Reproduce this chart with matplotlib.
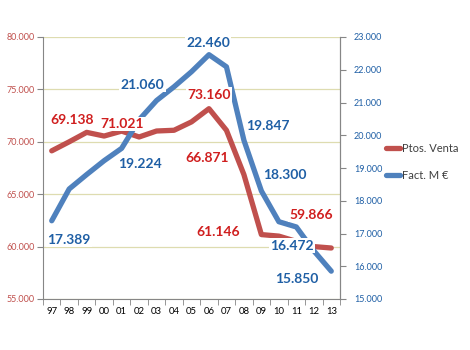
import matplotlib
matplotlib.use("Agg")
import matplotlib.pyplot as plt
from matplotlib.ticker import FuncFormatter, FixedLocator

years = ["97", "98", "99", "00", "01", "02", "03", "04", "05", "06", "07", "08", "09", "10", "11", "12", "13"]
ptos_venta = [69138, 70000, 70900, 70550, 71021, 70460, 71030, 71100, 71900, 73160, 71100, 66871, 61146, 61000, 60500, 60000, 59866]
fact_m = [17389, 18360, 18800, 19224, 19600, 20470, 21060, 21480, 21940, 22460, 22090, 19847, 18300, 17360, 17200, 16472, 15850]

# labelled points: (index, text, dx_px, dy_px)
red_labels = [(0, "69.138", 20, 31), (4, "71.021", 1, 7), (9, "73.160", 0, 14), (11, "66.871", -37, 17), (12, "61.146", -43, 3), (16, "59.866", -20, 33)]
blue_labels = [(0, "17.389", 17, -19), (3, "19.224", 36, -3), (6, "21.060", -14, 16), (9, "22.460", -1, 12), (11, "19.847", 24, 14), (12, "18.300", 23, 16), (15, "16.472", -22, 5), (16, "15.850", -34, -8)]

RED = "#c0504d"
BLUE = "#4f81bd"
RED_TXT = "#d01f1f"
BLUE_TXT = "#1f5fa5"

plt.rcParams['font.family'] = ['Lato', 'DejaVu Sans']

fig = plt.figure(figsize=(4.7, 3.5), dpi=100)
ax1 = fig.add_axes([43/470, 1-299/350, (340-43)/470, (299-37)/350])
ax2 = ax1.twinx()

x = list(range(len(years)))
l1, = ax1.plot(x, ptos_venta, color=RED, lw=3.8, solid_capstyle='round', solid_joinstyle='round', label="Ptos. Venta")
l2, = ax2.plot(x, fact_m, color=BLUE, lw=3.8, solid_capstyle='round', solid_joinstyle='round', label="Fact. M \u20ac")

ax1.set_xlim(-0.5, len(years) - 0.5)
ax1.set_ylim(55000, 80000)
ax2.set_ylim(15000, 23000)
ax1.set_yticks(range(55000, 80001, 5000))
ax2.set_yticks(range(15000, 23001, 1000))
fmt = FuncFormatter(lambda v, p: f"{int(v):,}".replace(",", "."))
ax1.yaxis.set_major_formatter(fmt)
ax2.yaxis.set_major_formatter(fmt)

ax1.set_xticks(x)
ax1.set_xticklabels(years)
ax1.xaxis.set_minor_locator(FixedLocator([i - 0.5 for i in range(len(years) + 1)]))
ax1.tick_params(axis='x', which='major', length=0, labelsize=6.8, pad=6, colors='black')
ax1.tick_params(axis='x', which='minor', length=4, color='#868686')
ax1.tick_params(axis='y', labelsize=6.5, labelcolor=RED, length=4, color='#868686', pad=2)
ax2.tick_params(axis='y', labelsize=6.5, labelcolor=BLUE_TXT, length=4, color='#868686', pad=6)

ax1.grid(axis='y', color='#dedcb0', lw=0.9)
ax1.set_axisbelow(True)
for ax in (ax1, ax2):
    ax.spines['top'].set_visible(False)
    for s in ('left', 'right', 'bottom'):
        ax.spines[s].set_color('#868686')
ax2.spines['left'].set_visible(False)
ax2.spines['bottom'].set_visible(False)

for i, t, dx, dy in red_labels:
    ax2.annotate(t, xy=(x[i], ptos_venta[i]), xycoords=ax1.transData, xytext=(dx * 0.72, dy * 0.72),
                 textcoords='offset points', ha='center', va='center', fontsize=10, fontweight='bold',
                 color=RED_TXT, zorder=5,
                 bbox=dict(boxstyle='square,pad=0.1', fc='white', ec='none'))
for i, t, dx, dy in blue_labels:
    ax2.annotate(t, xy=(x[i], fact_m[i]), xycoords=ax2.transData, xytext=(dx * 0.72, dy * 0.72),
                 textcoords='offset points', ha='center', va='center', fontsize=10, fontweight='bold',
                 color=BLUE_TXT, zorder=5,
                 bbox=dict(boxstyle='square,pad=0.1', fc='white', ec='none'))

fig.legend(handles=[l1, l2], loc='upper left', bbox_to_anchor=(376/470, 1-133/350), frameon=False,
           fontsize=8, labelcolor='#404040', handlelength=1.3, handletextpad=0.1, labelspacing=1.4)

fig.savefig("out.png", dpi=100)
